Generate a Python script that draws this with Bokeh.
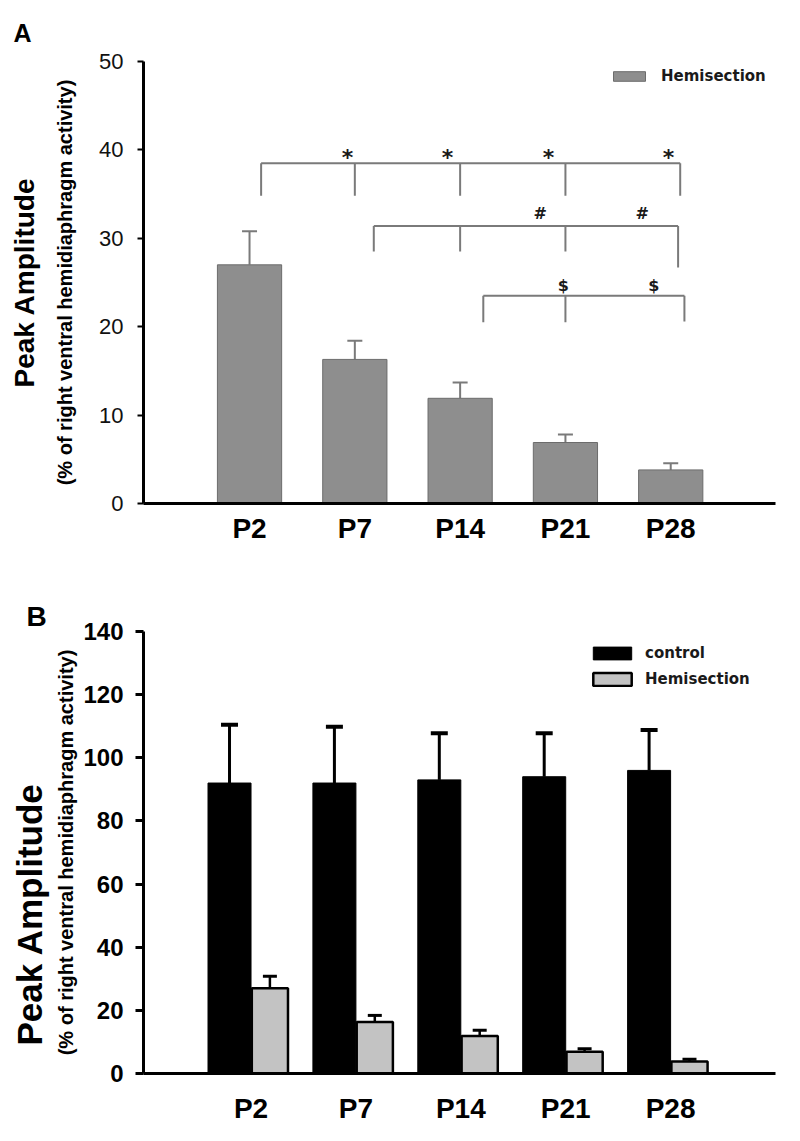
from bokeh.plotting import figure
from bokeh.models import (ColumnDataSource, FixedTicker, LinearAxis, Range1d,
                          Whisker, TeeHead, Legend, LegendItem, Title)
from bokeh.layouts import column
from bokeh.embed import file_html
from bokeh.resources import INLINE
from bokeh.core.properties import value

# ---------------- data ----------------
categories = ["P2", "P7", "P14", "P21", "P28"]
hemi_mean = [27.0, 16.3, 11.9, 6.9, 3.8]
hemi_sem = [3.8, 2.1, 1.8, 0.9, 0.75]
control_mean = [92.0, 92.0, 93.0, 94.0, 96.0]
control_sem = [18.5, 17.8, 14.8, 13.8, 12.8]
ticks_a = [0, 10, 20, 30, 40, 50]
ticks_b = [0, 20, 40, 60, 80, 100, 120, 140]

# significance brackets (panel A): reference group, compared groups, marked groups, symbol
bracket_ref = [0, 1, 2]
bracket_targets = [[1, 2, 3, 4], [2, 3, 4], [3, 4]]
bracket_marked = [[1, 2, 3, 4], [3, 4], [3, 4]]
bracket_symbol = ["*", "#", "$"]

# ---------------- styles ----------------
ARIAL = "Liberation Sans"
VERD = "DejaVu Sans"
GRAY_BAR = "#8e8e8e"
GRAY_LINE = "#7a7a7a"
LIGHT = "#c3c3c3"

idx = list(range(len(categories)))
label_map = {i: c for i, c in zip(idx, categories)}


def style_common(p):
    p.xgrid.grid_line_color = None
    p.ygrid.grid_line_color = None
    p.outline_line_color = None
    p.background_fill_color = "white"
    p.border_fill_color = "white"


# ================= Panel A =================
pa = figure(width=792, height=568, output_backend="svg", toolbar_location=None,
            x_range=Range1d(-1.007, 4.995), y_range=Range1d(0, 50),
            min_border_left=143, min_border_right=17, min_border_top=61,
            min_border_bottom=65, title="A")
style_common(pa)
pa.title.align = "left"
pa.title.offset = -140
pa.title.vertical_align = "bottom"
pa.title.standoff = 10
pa.title.padding = 10
pa.title.text_font = ARIAL
pa.title.text_font_style = "bold"
pa.title.text_font_size = "25px"
pa.title.text_color = "black"

src_a = ColumnDataSource(dict(x=idx, top=hemi_mean,
                              upper=[m + s for m, s in zip(hemi_mean, hemi_sem)],
                              lower=hemi_mean))
bars_a = pa.vbar(x="x", top="top", width=0.61, source=src_a, fill_color=GRAY_BAR,
                 line_color="#6c6c6c", line_width=1)
wa = Whisker(base="x", upper="upper", lower="lower", source=src_a,
             line_color=GRAY_LINE, line_width=2,
             upper_head=TeeHead(size=15, line_color=GRAY_LINE, line_width=2),
             lower_head=None)
pa.add_layout(wa)

# brackets: layout constants (heights in data units, x-offsets in category units)
br_level = [38.5, 31.4, 23.5]
br_drop = [34.8, 28.5, 20.5]
br_right_drop = [34.8, 26.7, 20.6]
br_left_off = [0.11, 0.18, 0.22]
br_right_off = [0.09, 0.07, 0.13]
sym_off = [[-0.07, -0.12, -0.16, -0.02], [-0.24, -0.27], [-0.02, -0.16]]
sym_y = [39.1, 32.8, 24.7]
sym_size = ["22px", "16px", "16px"]

xs, ys = [], []
tx, ty, tt, tsz = [], [], [], []
for b in range(len(bracket_ref)):
    left = bracket_ref[b] + br_left_off[b]
    right = bracket_targets[b][-1] + br_right_off[b]
    xs.append([left, right]); ys.append([br_level[b], br_level[b]])
    xs.append([left, left]); ys.append([br_level[b], br_drop[b]])
    for t in bracket_targets[b][:-1]:
        xs.append([t, t]); ys.append([br_level[b], br_drop[b]])
    xs.append([right, right]); ys.append([br_level[b], br_right_drop[b]])
    for k, m in enumerate(bracket_marked[b]):
        tx.append(m + sym_off[b][k]); ty.append(sym_y[b]); tt.append(bracket_symbol[b])
        tsz.append(sym_size[b])
pa.multi_line(xs=xs, ys=ys, line_color=GRAY_LINE, line_width=2)
pa.text(x=tx, y=ty, text=tt, text_font_size=tsz, text_font=value(VERD),
        text_font_style="bold", text_align="center", text_baseline="middle",
        text_color="#1a1a1a")

# axes A
pa.xaxis.ticker = FixedTicker(ticks=idx)
pa.xaxis.major_label_overrides = label_map
pa.xaxis.major_tick_line_color = None
pa.xaxis.minor_tick_line_color = None
pa.xaxis.major_label_text_font = ARIAL
pa.xaxis.major_label_text_font_style = "bold"
pa.xaxis.major_label_text_font_size = "28px"
pa.xaxis.major_label_text_color = "black"
pa.xaxis.major_label_standoff = 3
pa.xaxis.axis_line_width = 3
pa.xaxis.axis_line_color = "black"

pa.yaxis.ticker = FixedTicker(ticks=ticks_a)
pa.yaxis.minor_tick_line_color = None
pa.yaxis.major_tick_out = 6
pa.yaxis.major_tick_in = 0
pa.yaxis.major_tick_line_width = 2
pa.yaxis.axis_line_width = 3
pa.yaxis.major_label_text_font = ARIAL
pa.yaxis.major_label_text_font_size = "22px"
pa.yaxis.major_label_text_color = "#111111"
pa.yaxis.major_label_standoff = 14
pa.yaxis.axis_label = "(% of right ventral hemidiaphragm activity)"
pa.yaxis.axis_label_text_font = ARIAL
pa.yaxis.axis_label_text_font_style = "bold"
pa.yaxis.axis_label_text_font_size = "20px"
pa.yaxis.axis_label_text_color = "black"
pa.yaxis.axis_label_standoff = 20

ya2 = LinearAxis(axis_label="Peak Amplitude", ticker=FixedTicker(ticks=[]),
                 axis_line_color=None, major_tick_line_color=None,
                 minor_tick_line_color=None, major_label_text_font_size="0px",
                 axis_label_text_font=ARIAL, axis_label_text_font_style="bold",
                 axis_label_text_font_size="28px", axis_label_text_color="black",
                 axis_label_standoff=12)
pa.add_layout(ya2, "left")

leg_a = Legend(items=[LegendItem(label="Hemisection", renderers=[bars_a])],
               location=(466, 418), glyph_width=40, glyph_height=12,
               label_standoff=12, padding=0, margin=0, border_line_color=None,
               background_fill_alpha=0, label_text_font=VERD,
               label_text_font_style="bold", label_text_font_size="15px",
               label_text_color="#1a1a1a", label_height=12)
pa.add_layout(leg_a)

# ================= Panel B =================
pb = figure(width=792, height=565, output_backend="svg", toolbar_location=None,
            x_range=Range1d(-1.025, 5.0), y_range=Range1d(0, 140),
            min_border_left=142, min_border_right=15, min_border_top=63,
            min_border_bottom=60, title="B")
style_common(pb)
pb.title.align = "left"
pb.title.offset = -117
pb.title.standoff = 0
pb.title.text_font = ARIAL
pb.title.text_font_style = "bold"
pb.title.text_font_size = "28px"
pb.title.text_color = "black"

src_c = ColumnDataSource(dict(x=[i - 0.205 for i in idx], top=control_mean,
                              upper=[m + s for m, s in zip(control_mean, control_sem)],
                              lower=control_mean))
src_h = ColumnDataSource(dict(x=[i + 0.18 for i in idx], top=hemi_mean,
                              upper=[m + s for m, s in zip(hemi_mean, hemi_sem)],
                              lower=hemi_mean))
bars_c = pb.vbar(x="x", top="top", width=0.41, source=src_c, fill_color="black",
                 line_color="black", line_width=1)
bars_h = pb.vbar(x="x", top="top", width=0.345, source=src_h, fill_color=LIGHT,
                 line_color="black", line_width=2.5)
pb.add_layout(Whisker(base="x", upper="upper", lower="lower", source=src_c,
                      line_color="black", line_width=3,
                      upper_head=TeeHead(size=17, line_color="black", line_width=4),
                      lower_head=None))
pb.add_layout(Whisker(base="x", upper="upper", lower="lower", source=src_h,
                      line_color="black", line_width=2.5,
                      upper_head=TeeHead(size=14, line_color="black", line_width=3),
                      lower_head=None))

pb.xaxis.ticker = FixedTicker(ticks=idx)
pb.xaxis.major_label_overrides = label_map
pb.xaxis.major_tick_line_color = None
pb.xaxis.minor_tick_line_color = None
pb.xaxis.major_label_text_font = ARIAL
pb.xaxis.major_label_text_font_style = "bold"
pb.xaxis.major_label_text_font_size = "28px"
pb.xaxis.major_label_text_color = "black"
pb.xaxis.major_label_standoff = 13
pb.xaxis.axis_line_width = 3

pb.yaxis.ticker = FixedTicker(ticks=ticks_b)
pb.yaxis.minor_tick_line_color = None
pb.yaxis.major_tick_out = 8
pb.yaxis.major_tick_in = 0
pb.yaxis.major_tick_line_width = 3
pb.yaxis.axis_line_width = 3
pb.yaxis.major_label_text_font = ARIAL
pb.yaxis.major_label_text_font_style = "bold"
pb.yaxis.major_label_text_font_size = "24px"
pb.yaxis.major_label_text_color = "black"
pb.yaxis.major_label_standoff = 12
pb.yaxis.axis_label = "(% of right ventral hemidiaphragm activity)"
pb.yaxis.axis_label_text_font = ARIAL
pb.yaxis.axis_label_text_font_style = "bold"
pb.yaxis.axis_label_text_font_size = "20px"
pb.yaxis.axis_label_text_color = "black"
pb.yaxis.axis_label_standoff = 3

# big y title of panel B, starting near the bottom of the axis as in the original
tb = Title(text="Peak  Amplitude", align="left", offset=28, standoff=8,
           vertical_align="bottom", text_font=ARIAL, text_font_style="bold",
           text_font_size="35px", text_color="black")
pb.add_layout(tb, "left")

leg_b = Legend(items=[LegendItem(label="control", renderers=[bars_c]),
                      LegendItem(label="Hemisection", renderers=[bars_h])],
               location=(445, 385), glyph_width=48, glyph_height=16,
               label_standoff=9, padding=0, margin=0, spacing=8,
               border_line_color=None, background_fill_alpha=0,
               label_text_font=VERD, label_text_font_style="bold",
               label_text_font_size="15px", label_text_color="#1a1a1a",
               label_height=16)
pb.add_layout(leg_b)

layout = column(pa, pb)
open("out.html", "w").write(file_html(layout, INLINE))
